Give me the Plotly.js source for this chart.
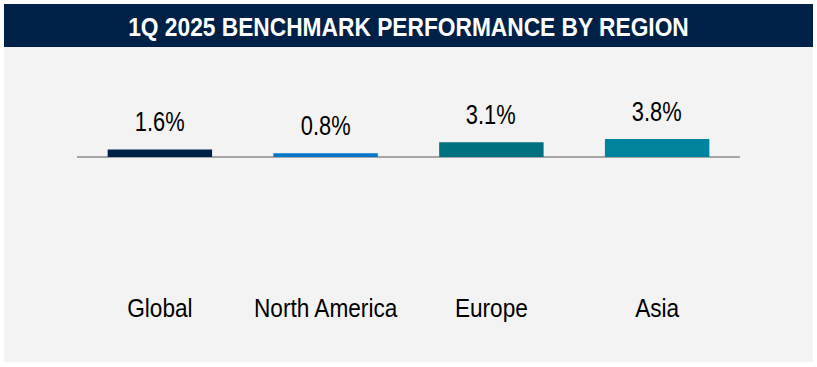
<!DOCTYPE html>
<html>
<head>
<meta charset="utf-8">
<script src="https://cdn.plot.ly/plotly-3.0.1.min.js"></script>
<style>
html,body{margin:0;padding:0;background:#ffffff;}
#chart{width:817px;height:367px;}
</style>
</head>
<body>
<div id="chart"></div>
<script>
// Data
const regions = ["Global", "North America", "Europe", "Asia"];
const returns = [1.6, 0.8, 3.1, 3.8];
const barColors = ["#002147", "#0077c8", "#00717f", "#00839c"];
const chartTitle = "1Q 2025 BENCHMARK PERFORMANCE BY REGION";

const FONT = "'Liberation Sans Narrow', 'Arial Narrow', 'Liberation Sans', Arial, sans-serif";

// plot area geometry (pixels)
const W = 817, H = 367;
const mL = 77, mR = 77, mT = 60, mB = 82;
const pw = W - mL - mR, ph = H - mT - mB;
const px2x = x => (x - mL) / pw;
const px2y = y => (H - mB - y) / ph;

const trace = {
  type: "bar",
  x: regions,
  y: returns,
  marker: {color: barColors, line: {width: 0}},
  width: 0.63,
  hoverinfo: "none"
};

const annotations = regions.map((r, i) => ({
  x: r, y: returns[i], xref: "x", yref: "y",
  text: returns[i].toFixed(1) + "%",
  showarrow: false, yanchor: "bottom", yshift: 10,
  font: {family: FONT, size: 27, color: "#000000"}
}));

const layout = {
  width: W, height: H,
  margin: {l: mL, r: mR, t: mT, b: mB, pad: 0},
  paper_bgcolor: "#ffffff",
  plot_bgcolor: "rgba(0,0,0,0)",
  showlegend: false,
  title: {
    text: "<b>" + chartTitle + "</b>",
    x: 0.5, xref: "paper", xanchor: "center",
    y: 1 - 27 / H, yref: "container", yanchor: "middle",
    font: {family: FONT, size: 25, color: "#ffffff"}
  },
  xaxis: {
    showgrid: false, zeroline: false, showline: false, ticks: "",
    tickfont: {family: FONT, size: 26, color: "#000000"},
    ticklabelstandoff: 5,
    fixedrange: true
  },
  yaxis: {
    range: [-27.2, 20.6],
    showgrid: false, showticklabels: false, ticks: "",
    zeroline: true, zerolinecolor: "#a6a6a6", zerolinewidth: 1.5,
    fixedrange: true
  },
  shapes: [
    {type: "rect", xref: "paper", yref: "paper", layer: "below",
     x0: px2x(4), x1: px2x(813), y0: px2y(362), y1: px2y(47),
     fillcolor: "#f3f3f3", line: {width: 0}},
    {type: "rect", xref: "paper", yref: "paper", layer: "below",
     x0: px2x(4), x1: px2x(813), y0: px2y(47), y1: px2y(4),
     fillcolor: "#002147", line: {width: 0}}
  ],
  annotations: annotations,
  bargap: 0.37
};

// Emulate a narrow (condensed) typeface by horizontally compressing real text around its centre.
function condense(selector, s) {
  document.querySelectorAll(selector).forEach(el => {
    const bb = el.getBBox();
    const cx = bb.x + bb.width / 2;
    const t = el.getAttribute("transform") || "";
    el.setAttribute("transform", t + " translate(" + cx + ",0) scale(" + s + ",1) translate(" + (-cx) + ",0)");
  });
}

Plotly.newPlot("chart", [trace], layout, {displayModeBar: false, staticPlot: true}).then(() => {
  condense("#chart .xtick text", 0.87);
  condense("#chart .annotation-text", 0.81);
  condense("#chart .gtitle", 0.91);
});
</script>
</body>
</html>
